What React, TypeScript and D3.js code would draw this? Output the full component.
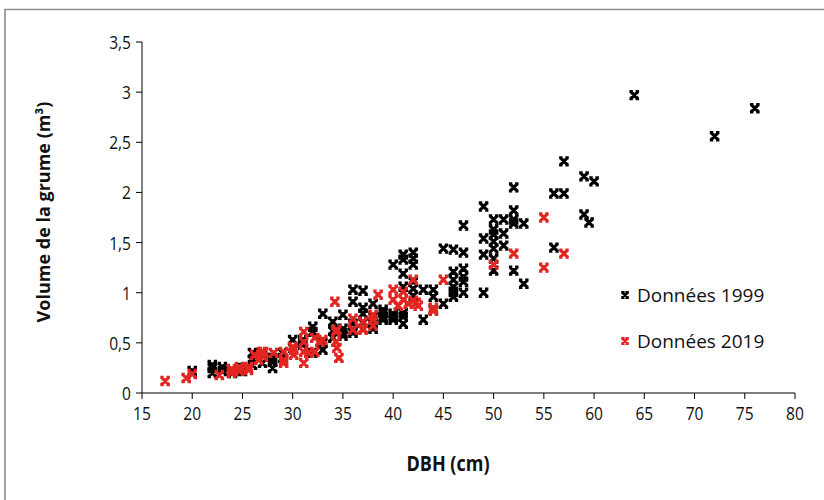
import * as d3 from "d3";
import React from "react";

// Données 1999 : [DBH (cm), volume (m3)]
const data1999 = [
  [20, 0.22], [22, 0.28], [22, 0.25], [22, 0.2], [23, 0.26], [23, 0.22], [24, 0.22], [24, 0.2],
  [25, 0.25], [25, 0.22], [26, 0.4], [26, 0.33], [26, 0.28], [27, 0.3], [27, 0.38], [28, 0.31],
  [28, 0.25], [28, 0.35], [29, 0.35], [29, 0.4], [30, 0.53], [30, 0.45], [31, 0.53], [31, 0.48],
  [31, 0.5], [32, 0.66], [32, 0.61], [32, 0.4], [33, 0.79], [33, 0.43], [33, 0.5], [34, 0.71],
  [34, 0.55], [34, 0.62], [35, 0.78], [35, 0.64], [35, 0.57], [35, 0.6], [36, 1.03], [36, 0.91],
  [36, 0.69], [36, 0.63], [36, 0.6], [37, 1.02], [37, 0.85], [37, 0.79], [37, 0.7], [38, 0.89],
  [38, 0.76], [38, 0.7], [38, 0.64], [38, 0.69], [39, 0.83], [39, 0.76], [39, 0.73], [39, 0.8],
  [40, 1.28], [40, 0.79], [40, 0.73], [40, 0.76], [41, 1.38], [41, 1.33], [41, 1.19], [41, 1.06],
  [41, 0.76], [41, 0.69], [41, 0.8], [42, 1.4], [42, 1.34], [42, 1.28], [42, 1.04], [42, 0.97],
  [42, 1.11], [43, 1.03], [43, 0.73], [44, 1.03], [44, 0.96], [44, 0.83], [45, 1.44], [45, 0.89],
  [46, 1.43], [46, 1.21], [46, 1.13], [46, 1.06], [46, 1.01], [46, 0.96], [47, 1.67], [47, 1.4],
  [47, 1.24], [47, 1.16], [47, 1.11], [47, 1.0], [49, 1.86], [49, 1.54], [49, 1.38], [49, 1.0],
  [50, 1.73], [50, 1.63], [50, 1.58], [50, 1.51], [50, 1.44], [50, 1.34], [50, 1.22], [51, 1.73],
  [51, 1.59], [51, 1.47], [52, 2.05], [52, 1.82], [52, 1.73], [52, 1.69], [52, 1.22], [53, 1.69],
  [53, 1.09], [56, 1.99], [56, 1.45], [57, 2.31], [57, 1.99], [59, 2.16], [59, 1.78], [59.5, 1.7],
  [60, 2.11], [64, 2.97], [72, 2.56], [76, 2.84],
];

// Données 2019
const data2019 = [
  [17.3, 0.12], [19.4, 0.15], [20, 0.19], [22.7, 0.18], [23.9, 0.24], [23.9, 0.2], [24.7, 0.22],
  [24.7, 0.26], [25.6, 0.26], [25.6, 0.23], [26.2, 0.38], [26.6, 0.33], [26.9, 0.41], [27.1, 0.36],
  [27.1, 0.41], [28.1, 0.4], [29.1, 0.41], [29.1, 0.3], [29.1, 0.33], [30.1, 0.43], [30.1, 0.38],
  [30, 0.46], [31.1, 0.61], [31.1, 0.51], [31.1, 0.41], [31.1, 0.3], [31.6, 0.4], [32.2, 0.41],
  [32.2, 0.55], [32.7, 0.51], [33, 0.53], [34.2, 0.91], [34.3, 0.61], [34.3, 0.51], [34.4, 0.63],
  [34.4, 0.45], [34.6, 0.35], [36, 0.74], [36, 0.63], [37, 0.71], [37, 0.64], [37, 0.63], [38, 0.78],
  [38, 0.73], [38, 0.67], [38.5, 0.98], [40, 1.03], [40, 0.93], [40.5, 0.87], [41, 1.01], [41, 0.93],
  [41.5, 0.89], [42, 1.13], [42, 0.92], [42.5, 0.87], [42.3, 0.9], [44, 0.85], [44, 0.82], [45, 1.13],
  [50, 1.28], [52, 1.39], [55, 1.75], [55, 1.25], [57, 1.39],
];

const xTicks = d3.range(15, 81, 5);
const yTicks = d3.range(0, 3.51, 0.5);
const series = [
  { name: "Données 1999", color: "#000000", points: data1999 },
  { name: "Données 2019", color: "#e32522", points: data2019 },
];

const W = 824, H = 500;
const x = d3.scaleLinear().domain([15, 80]).range([142, 795]);
const y = d3.scaleLinear().domain([0, 3.5]).range([393, 42]);
const fmt = (v: number) => String(v).replace(".", ",");

// Excel-style "x" marker with flat ends
const marker = (s: number) =>
  `M${-s},${-s}L${s},${s}M${s},${-s}L${-s},${s}M${-s - 1.2},${-s}L${-s + 2.2},${-s}M${s + 1.2},${-s}L${s - 2.2},${-s}M${-s - 1.2},${s}L${-s + 2.2},${s}M${s + 1.2},${s}L${s - 2.2},${s}`;

const font = "'Open Sans', sans-serif";

// condensed look: squeeze the glyphs horizontally
const Narrow = ({ x: tx, y: ty, anchor, size, bold, children }: any) => (
  <text
    transform={`translate(${tx},${ty}) scale(0.82,1)`}
    textAnchor={anchor}
    fontFamily={font}
    fontSize={size}
    fontWeight={bold ? "bold" : "normal"}
    fill="#111"
  >
    {children}
  </text>
);

export default function App() {
  return (
    <svg width={W} height={H} style={{ position: "absolute", left: 0, top: 0, background: "#fff" }}>
      <rect x={0} y={0} width={W} height={H} fill="#fff" />
      <path d={`M5,${H}V9.5H${W}`} fill="none" stroke="#8c8c8c" strokeWidth={1.6} />

      {/* axes */}
      <line x1={x(15)} x2={x(80)} y1={y(0)} y2={y(0)} stroke="#000" />
      <line x1={x(15)} x2={x(15)} y1={y(0)} y2={y(3.5)} stroke="#000" />
      {xTicks.map((t) => (
        <g key={"x" + t}>
          <line x1={x(t)} x2={x(t)} y1={y(0)} y2={y(0) + 6} stroke="#000" />
          <Narrow x={x(t)} y={y(0) + 27} anchor="middle" size={19}>
            {t}
          </Narrow>
        </g>
      ))}
      {yTicks.map((t) => (
        <g key={"y" + t}>
          <line x1={x(15) - 6} x2={x(15)} y1={y(t)} y2={y(t)} stroke="#000" />
          <Narrow x={x(15) - 11} y={y(t) + 7} anchor="end" size={19}>
            {fmt(+t.toFixed(1))}
          </Narrow>
        </g>
      ))}

      {/* axis titles */}
      <text
        transform={`translate(50,${212}) rotate(-90)`}
        textAnchor="middle"
        fontFamily={font}
        fontWeight="bold"
        fontSize={18}
        fill="#111"
      >
        Volume de la grume (m³)
      </text>
      <Narrow x={448} y={471} anchor="middle" size={22} bold>
        DBH (cm)
      </Narrow>

      {/* points */}
      {series.map((s) => (
        <g key={s.name}>
          {s.points.map((p, i) => (
            <path
              key={i}
              transform={`translate(${x(p[0])},${y(p[1])})`}
              d={marker(3.6)}
              stroke={s.color}
              strokeWidth={3.2}
              fill="none"
            />
          ))}
        </g>
      ))}

      {/* legend */}
      {series.map((s, i) => (
        <g key={"l" + s.name} transform={`translate(625,${295 + i * 46})`}>
          <path d={marker(2.6)} stroke={s.color} strokeWidth={2.8} fill="none" />
          <text x={12} y={7} fontFamily={font} fontSize={19} fill="#111">
            {s.name}
          </text>
        </g>
      ))}
    </svg>
  );
}
